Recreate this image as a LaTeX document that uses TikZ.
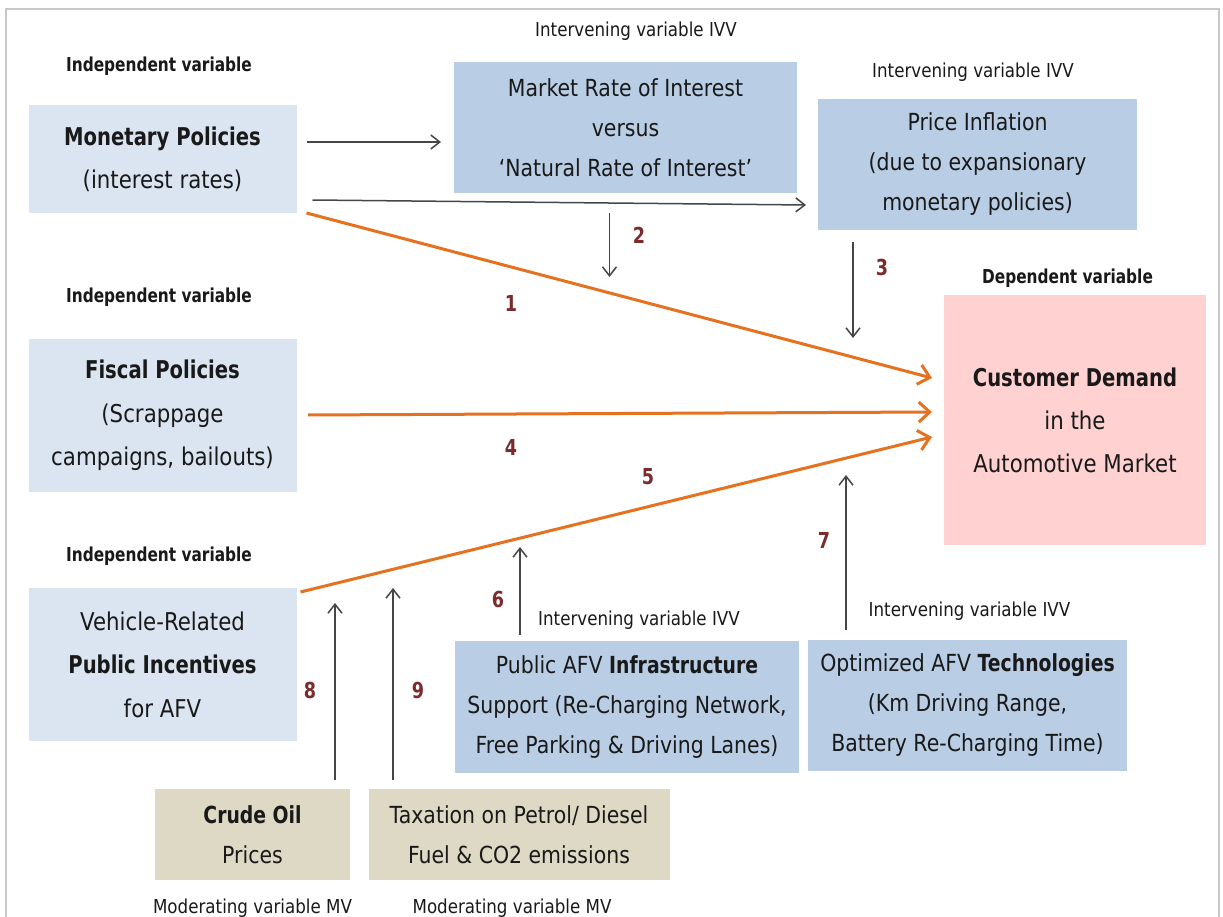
\documentclass[tikz,border=0pt]{standalone}
\usepackage{fontspec}
\setmainfont{DejaVu Sans}[
  UprightFeatures={FakeStretch=0.87},
  BoldFeatures={FakeStretch=0.80}]
\usetikzlibrary{arrows.meta,calc}

\definecolor{indepfill}{RGB}{219,229,241}
\definecolor{ivvfill}{RGB}{185,205,229}
\definecolor{depfill}{RGB}{255,209,209}
\definecolor{modfill}{RGB}{221,217,196}
\definecolor{orangearrow}{RGB}{228,114,32}
\definecolor{grayarrow}{RGB}{70,70,70}
\definecolor{numred}{RGB}{122,44,44}
\definecolor{frameline}{RGB}{200,200,200}
\definecolor{ink}{RGB}{25,25,25}

\tikzset{
  x=1pt, y=-1pt,
  every node/.style={inner sep=0pt, outer sep=0pt, text=ink},
  indep/.style={fill=indepfill, align=center, font=\fontsize{24.5}{43.5}\selectfont},
  ivv/.style={fill=ivvfill, align=center, font=\fontsize{23.5}{40}\selectfont},
  dep/.style={fill=depfill, align=center, font=\fontsize{24.5}{43}\selectfont},
  modbox/.style={fill=modfill, align=center, font=\fontsize{23.5}{40}\selectfont},
  lbl/.style={font=\fontsize{19.2}{21}\selectfont},
  lblb/.style={font=\bfseries\fontsize{19.2}{21}\selectfont},
  num/.style={font=\bfseries\fontsize{22}{24}\selectfont, text=numred},
  garrow/.style={draw=grayarrow, line width=1.5pt,
    -{Straight Barb[length=9pt,width=14pt,line width=1.5pt]}},
  oarrow/.style={draw=orangearrow, line width=3pt,
    -{Straight Barb[length=11pt,width=20pt,line width=3pt]}},
}

\begin{document}
\begin{tikzpicture}
\useasboundingbox (0,0) rectangle (1223,917);
\clip (0,0) rectangle (1223,917);
\fill[white] (0,0) rectangle (1223,917);
\draw[frameline, line width=2.5pt] (6,9) rectangle (1219,960);

% ---- boxes ----
\node[indep, minimum width=268, minimum height=108] (mon) at (162.5,159)
  {\textbf{Monetary Policies}\\[-0.5pt](interest rates)};
\node[ivv, minimum width=343, minimum height=131] (market) at (625.5,127.5)
  {Market Rate of Interest\\versus\\‘Natural Rate of Interest’};
\node[ivv, minimum width=319, minimum height=131] (price) at (977.5,164.5)
  {Price Inflation\\(due to expansionary\\monetary policies)};
\node[dep, minimum width=262, minimum height=250] (cust) at (1075,420)
  {\textbf{Customer Demand}\\in the\\Automotive Market};
\node[indep, minimum width=268, minimum height=153] (fiscal) at (162.5,415.5)
  {\textbf{Fiscal Policies}\\(Scrappage\\campaigns, bailouts)};
\node[indep, minimum width=268, minimum height=153] (vehicle) at (162.5,664.5)
  {Vehicle-Related\\\textbf{Public Incentives}\\for AFV};
\node[ivv, minimum width=344, minimum height=132] (public) at (627,707)
  {Public AFV \textbf{Infrastructure}\\Support (Re-Charging Network,\\Free Parking \& Driving Lanes)};
\node[ivv, minimum width=319, minimum height=131] (optim) at (967.5,705.5)
  {Optimized AFV \textbf{Technologies}\\(Km Driving Range,\\Battery Re-Charging Time)};
\node[modbox, minimum width=195, minimum height=91] (crude) at (252.5,834.5)
  {\textbf{Crude Oil}\\Prices};
\node[modbox, minimum width=301, minimum height=91] (tax) at (519,834.5)
  {Taxation on Petrol/ Diesel\\Fuel \& CO2 emissions};

% ---- variable captions ----
\node[lblb] (cap1) at (159,66) {Independent variable};
\node[lblb] (cap2) at (159,297) {Independent variable};
\node[lblb] (cap3) at (159,556) {Independent variable};
\node[lbl] (cap4) at (636,31) {Intervening variable IVV};
\node[lbl] (cap5) at (973,72) {Intervening variable IVV};
\node[lbl] (cap6) at (639,620) {Intervening variable IVV};
\node[lbl] (cap7) at (969.5,611) {Intervening variable IVV};
\node[lblb] (cap8) at (1067.5,278) {Dependent variable};
\node[lbl] (cap9) at (252.5,908) {Moderating variable MV};
\node[lbl] (cap10) at (512,908) {Moderating variable MV};

% ---- free ends of the moderating / intervening arrows ----
\coordinate (e2) at (609.5,277);
\coordinate (e3) at (853,338);
\coordinate (e6) at (520,547);
\coordinate (e7) at (846,475);
\coordinate (e8) at (335,603);
\coordinate (e9) at (393,588);

% ---- gray connectors ----
\draw[garrow] ($(mon.east)+(10,-17)$) -- ($(market.west |- mon.east)+(-13,-17)$);
\draw[garrow] ($(mon.east)+(16,41)$) -- ($(price.west)+(-12,40.5)$);
\draw[garrow] ($(market.south)+(-16,20)$) -- (e2);
\draw[garrow] ($(price.south)+(-124.5,12)$) -- (e3);
\draw[garrow] ($(public.north)+(-107,-6)$) -- (e6);
\draw[garrow] ($(optim.north)+(-121.5,-10)$) -- (e7);
\draw[garrow] ($(crude.north)+(82.5,-9)$) -- (e8);
\draw[garrow] ($(tax.north)+(-126,-9)$) -- (e9);

% ---- orange connectors into the dependent variable ----
\draw[oarrow] ($(mon.south east)+(10,0)$) -- ($(cust.west)+(-12,-42)$);
\draw[oarrow] ($(fiscal.east)+(11.5,-0.5)$) -- ($(cust.west)+(-12,-8)$);
\draw[oarrow] ($(vehicle.north east)+(4,4)$) -- ($(cust.west)+(-12,17)$);

% ---- path numbers ----
\node[num] (n1) at (511,303) {1};
\node[num] (n2) at (639,235) {2};
\node[num] (n3) at (882,267) {3};
\node[num] (n4) at (511,447) {4};
\node[num] (n5) at (648,477) {5};
\node[num] (n6) at (498,599) {6};
\node[num] (n7) at (824,540) {7};
\node[num] (n8) at (310,690) {8};
\node[num] (n9) at (418,690) {9};
\end{tikzpicture}
\end{document}
